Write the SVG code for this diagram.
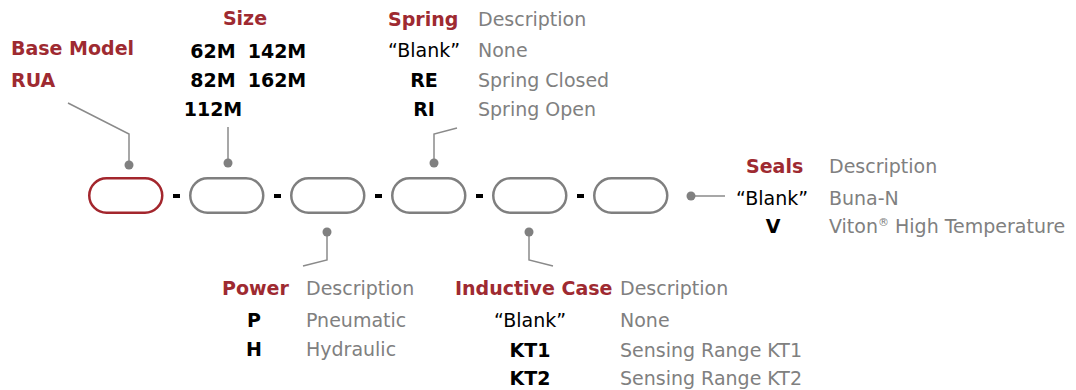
<svg xmlns="http://www.w3.org/2000/svg" width="1076" height="390" viewBox="0 0 1076 390">
<style>
text{font-family:"DejaVu Sans","Liberation Sans",sans-serif;font-size:19px}
.h{fill:#9e2a31;font-weight:bold}
.c{fill:#000;font-weight:bold;text-anchor:middle}
.b{fill:#000;text-anchor:middle}
.d{fill:#808080}
.pill{fill:none;stroke:#7f7f7f;stroke-width:2.5}
.pill.red{stroke:#a3262d}
.dash{fill:#000}
.lead{fill:none;stroke:#8a8a8a;stroke-width:1.5}
.dot{fill:#808080}
</style>
<rect width="1076" height="390" fill="#fff"/>
<g id="connectors">
<polyline class="lead" points="68,103 129,134 129,165"/>
<circle class="dot" cx="129" cy="165" r="4.5"/>
<polyline class="lead" points="228,127 228,163"/>
<circle class="dot" cx="228" cy="163" r="4.5"/>
<polyline class="lead" points="457,128 434,134 434,163"/>
<circle class="dot" cx="434" cy="163" r="4.5"/>
<polyline class="lead" points="327,232 327,260 303,266"/>
<circle class="dot" cx="327" cy="232" r="4.5"/>
<polyline class="lead" points="529,232 529,260 553,266"/>
<circle class="dot" cx="529" cy="232" r="4.5"/>
<polyline class="lead" points="691,196 725,196"/>
<circle class="dot" cx="691" cy="196" r="4.5"/>
</g>
<g id="pills">
<rect id="p1" class="pill red" x="89.25" y="178.25" width="73" height="34.5" rx="17.25"/>
<rect id="p2" class="pill" x="190.25" y="178.25" width="73" height="34.5" rx="17.25"/>
<rect id="p3" class="pill" x="291.25" y="178.25" width="73" height="34.5" rx="17.25"/>
<rect id="p4" class="pill" x="392.25" y="178.25" width="73" height="34.5" rx="17.25"/>
<rect id="p5" class="pill" x="493.25" y="178.25" width="73" height="34.5" rx="17.25"/>
<rect id="p6" class="pill" x="594.25" y="178.25" width="73" height="34.5" rx="17.25"/>
<rect class="dash" x="173" y="194" width="7" height="4"/>
<rect class="dash" x="274" y="194" width="7" height="4"/>
<rect class="dash" x="375" y="194" width="7" height="4"/>
<rect class="dash" x="476" y="194" width="7" height="4"/>
<rect class="dash" x="577" y="194" width="7" height="4"/>
</g>
<g id="base-model">
<text class="h" x="11" y="55">Base Model</text>
<text class="h" x="11" y="87">RUA</text>
</g>
<g id="size">
<text class="h" x="245" y="25" text-anchor="middle">Size</text>
<text class="c" x="213" y="58">62M</text>
<text class="c" x="277" y="58">142M</text>
<text class="c" x="213" y="87">82M</text>
<text class="c" x="277" y="87">162M</text>
<text class="c" x="213" y="116">112M</text>
</g>
<g id="spring">
<text class="h" x="388" y="26">Spring</text>
<text class="d" x="478" y="26">Description</text>
<text class="b" x="424" y="57">“Blank”</text>
<text class="d" x="478" y="57">None</text>
<text class="c" x="424" y="87">RE</text>
<text class="d" x="478" y="87">Spring Closed</text>
<text class="c" x="424" y="116">RI</text>
<text class="d" x="478" y="116">Spring Open</text>
</g>
<g id="seals">
<text class="h" x="746" y="173">Seals</text>
<text class="d" x="829" y="173">Description</text>
<text class="b" x="772" y="205">“Blank”</text>
<text class="d" x="829" y="205">Buna-N</text>
<text class="c" x="773" y="233">V</text>
<text class="d" x="829" y="233">Viton<tspan font-size="11" dy="-7">®</tspan><tspan dy="7"> High Temperature</tspan></text>
</g>
<g id="power">
<text class="h" x="222" y="295">Power</text>
<text class="d" x="306" y="295">Description</text>
<text class="c" x="254" y="327">P</text>
<text class="d" x="306" y="327">Pneumatic</text>
<text class="c" x="254" y="356">H</text>
<text class="d" x="306" y="356">Hydraulic</text>
</g>
<g id="inductive-case">
<text class="h" x="455" y="295">Inductive Case</text>
<text class="d" x="620" y="295">Description</text>
<text class="b" x="530" y="327">“Blank”</text>
<text class="d" x="620" y="327">None</text>
<text class="c" x="530" y="357">KT1</text>
<text class="d" x="620" y="357">Sensing Range KT1</text>
<text class="c" x="530" y="385">KT2</text>
<text class="d" x="620" y="385">Sensing Range KT2</text>
</g>
</svg>
